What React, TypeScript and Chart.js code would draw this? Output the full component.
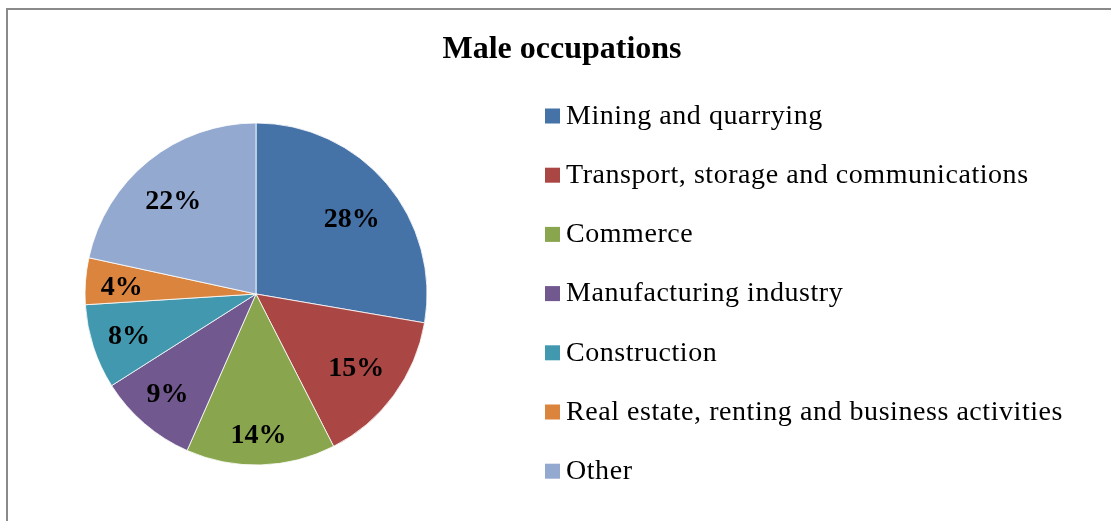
import React, { useEffect, useRef } from "react";
import { Chart, registerables } from "chart.js";

Chart.register(...registerables);

const chartTitle = "Male occupations";
const categories = [
  "Mining and quarrying",
  "Transport, storage and communications",
  "Commerce",
  "Manufacturing industry",
  "Construction",
  "Real estate, renting and business activities",
  "Other",
];
const shares = [27.7, 14.8, 14.1, 9.4, 8.0, 4.4, 21.6];
const sliceColors = [
  "#4572A7",
  "#AA4643",
  "#89A54E",
  "#71588F",
  "#4198AF",
  "#DB843D",
  "#93A9CF",
];

const SERIF = '"Liberation Serif", "Times New Roman", Times, serif';

const framePlugin = {
  id: "frame",
  beforeDraw(chart: any) {
    const ctx = chart.ctx;
    ctx.save();
    ctx.fillStyle = "#ffffff";
    ctx.fillRect(0, 0, chart.width, chart.height);
    ctx.fillStyle = "#8a8a8a";
    ctx.fillRect(6, 8, 2, chart.height - 8);
    ctx.fillRect(6, 8, chart.width - 6, 2);
    ctx.restore();
  },
};

const sliceLabelPlugin = {
  id: "sliceLabels",
  afterDatasetsDraw(chart: any) {
    const ctx = chart.ctx;
    const meta = chart.getDatasetMeta(0);
    const values: number[] = chart.data.datasets[0].data;
    const total = values.reduce((a, b) => a + b, 0);
    ctx.save();
    ctx.font = "bold 28px " + SERIF;
    ctx.fillStyle = "#000000";
    ctx.textAlign = "center";
    ctx.textBaseline = "middle";
    meta.data.forEach((arc: any, i: number) => {
      const { x, y, startAngle, endAngle, outerRadius } = arc.getProps(
        ["x", "y", "startAngle", "endAngle", "outerRadius"],
        true
      );
      const mid = (startAngle + endAngle) / 2;
      const txt = Math.round((values[i] / total) * 100) + "%";
      const hw = ctx.measureText(txt).width / 2;
      const hh = 10;
      const c = Math.cos(mid);
      const s = Math.sin(mid);
      const ext = hw * Math.abs(c) + hh * Math.abs(s);
      const d = outerRadius * 0.906 - ext;
      const dyAdj = 3.5 - 6 * s;
      ctx.fillText(txt, x + c * d - 1.5, y + s * d + dyAdj);
    });
    ctx.restore();
  },
};

const titleLegendPlugin = {
  id: "titleLegend",
  afterDraw(chart: any) {
    const ctx = chart.ctx;
    ctx.save();
    ctx.fillStyle = "#000000";
    ctx.font = "bold 32px " + SERIF;
    ctx.textAlign = "center";
    ctx.textBaseline = "alphabetic";
    ctx.fillText(chartTitle, 562, 58);

    const labels: string[] = chart.data.labels;
    const colors: string[] = chart.data.datasets[0].backgroundColor;
    ctx.font = "28px " + SERIF;
    ctx.textAlign = "left";
    try {
      (ctx as any).letterSpacing = "0.55px";
    } catch (e) {}
    labels.forEach((lab, i) => {
      const top = 108.5 + i * 59.2;
      ctx.fillStyle = colors[i];
      ctx.fillRect(545, top, 15, 15);
      ctx.fillStyle = "#000000";
      ctx.fillText(lab, 566, top + 15.3);
    });
    ctx.restore();
  },
};

export default function App() {
  const canvasRef = useRef<HTMLCanvasElement | null>(null);

  useEffect(() => {
    const canvas = canvasRef.current;
    if (!canvas) return;
    const chart = new Chart(canvas, {
      type: "pie",
      data: {
        labels: categories,
        datasets: [
          {
            data: shares,
            backgroundColor: sliceColors,
            borderColor: "rgba(255,255,255,0.8)",
            borderWidth: 1,
            hoverOffset: 0,
          },
        ],
      },
      options: {
        responsive: false,
        devicePixelRatio: 1,
        animation: false,
        layout: {
          padding: { left: 84.5, right: 683.5, top: 122.5, bottom: 55.5 },
        },
        plugins: {
          legend: { display: false },
          title: { display: false },
          tooltip: { enabled: false },
        },
      },
      plugins: [framePlugin, sliceLabelPlugin, titleLegendPlugin],
    });
    return () => chart.destroy();
  }, []);

  return (
    <canvas
      ref={canvasRef}
      width={1111}
      height={521}
      style={{ position: "absolute", left: 0, top: 0, display: "block", width: 1111, height: 521 }}
    />
  );
}
